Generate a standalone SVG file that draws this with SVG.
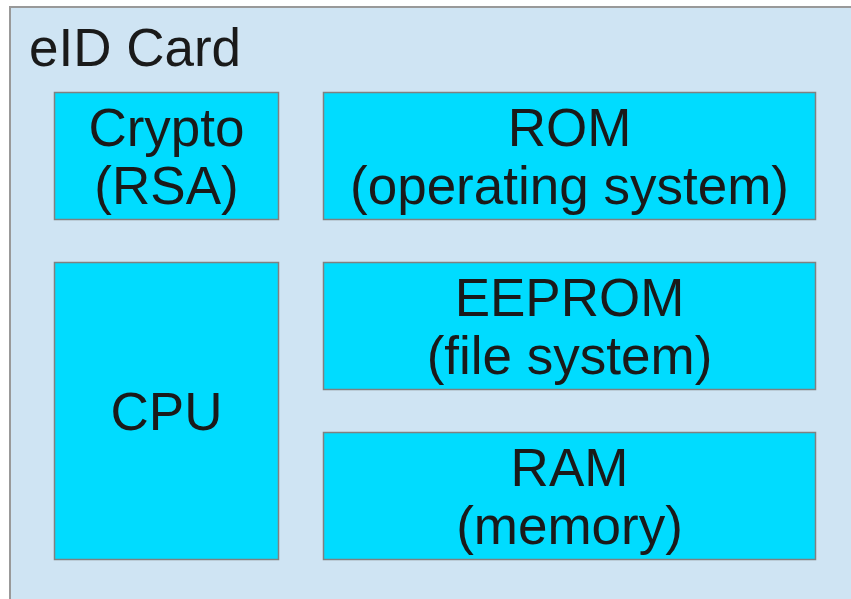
<svg xmlns="http://www.w3.org/2000/svg" width="851" height="599" viewBox="0 0 851 599">
  <style>
    .card { fill: #cfe4f3; stroke: #999999; stroke-width: 2; }
    .block { fill: #00dcff; stroke: #808080; stroke-width: 1.5; }
    .label { font-family: "Liberation Sans", Arial, sans-serif; font-size: 53px; fill: #1a1a1a; text-anchor: middle; }
    .title { font-family: "Liberation Sans", Arial, sans-serif; font-size: 53px; fill: #1a1a1a; }
  </style>
  <rect x="0" y="0" width="851" height="599" fill="#ffffff"/>
  <g id="card">
    <rect class="card" x="10" y="7" width="860" height="620"/>
    <text class="title" x="29" y="66">eID Card</text>
  </g>
  <g id="crypto">
    <rect class="block" x="54.5" y="92.5" width="224" height="127"/>
    <text class="label" x="166.5" y="146">Crypto</text>
    <text class="label" x="166.5" y="204">(RSA)</text>
  </g>
  <g id="rom">
    <rect class="block" x="323.5" y="92.5" width="492" height="127"/>
    <text class="label" x="569.5" y="146">ROM</text>
    <text class="label" x="569.5" y="204">(operating system)</text>
  </g>
  <g id="cpu">
    <rect class="block" x="54.5" y="262.5" width="224" height="297"/>
    <text class="label" x="166.5" y="430">CPU</text>
  </g>
  <g id="eeprom">
    <rect class="block" x="323.5" y="262.5" width="492" height="127"/>
    <text class="label" x="569.5" y="316">EEPROM</text>
    <text class="label" x="569.5" y="374">(file system)</text>
  </g>
  <g id="ram">
    <rect class="block" x="323.5" y="432.5" width="492" height="127"/>
    <text class="label" x="569.5" y="486">RAM</text>
    <text class="label" x="569.5" y="544">(memory)</text>
  </g>
  <g id="connectors"/>
</svg>
